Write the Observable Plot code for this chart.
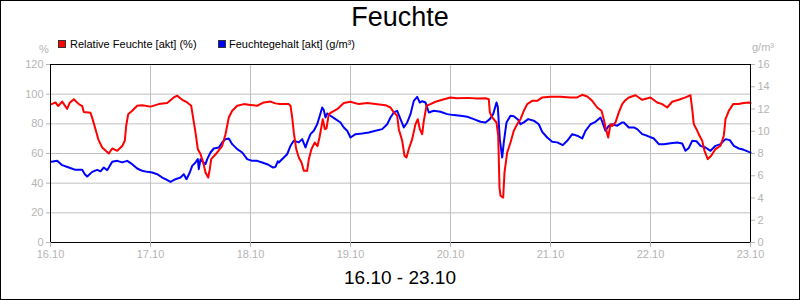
<!DOCTYPE html>
<html><head><meta charset="utf-8">
<script src="https://cdn.jsdelivr.net/npm/d3@7"></script>
<script src="https://cdn.jsdelivr.net/npm/@observablehq/plot@0.6"></script>
<style>
body{margin:0;background:#fff;font-family:"Liberation Sans",Arial,sans-serif;}
#c{position:relative;width:800px;height:300px;overflow:hidden;background:#fff}
#border{position:absolute;left:0;top:0;width:800px;height:300px;box-sizing:border-box;border:1px solid #000;pointer-events:none}
.abs{position:absolute;white-space:nowrap;line-height:1}
.sw{position:absolute;width:6px;height:6px;border:1px solid #333}
#plot{position:absolute;left:0;top:50px}
</style></head>
<body><div id="c">
<div class="abs" style="left:0;width:800px;text-align:center;top:4px;font-size:27px;color:#000">Feuchte</div>
<div class="sw" style="left:58px;top:40px;background:#ff0000"></div>
<div class="abs" style="left:70px;top:39px;font-size:11px;color:#000">Relative Feuchte [akt] (%)</div>
<div class="sw" style="left:218px;top:40px;background:#0000ff"></div>
<div class="abs" style="left:229px;top:39px;font-size:11px;color:#000">Feuchtegehalt [akt] (g/m³)</div>
<div class="abs" style="left:39px;top:44px;font-size:11px;color:#b4b4b4">%</div>
<div class="abs" style="left:752px;top:42px;font-size:11px;color:#b4b4b4">g/m³</div>
<div id="plot"></div>
<div class="abs" style="left:0;width:800px;text-align:center;top:268px;font-size:19px;color:#000">16.10 - 23.10</div>
<div id="border"></div>
</div>
<script>
const xTickLabels = ["16.10","17.10","18.10","19.10","20.10","21.10","22.10","23.10"];
const leftTicks = [0,20,40,60,80,100,120];
const rightTicks = [0,2,4,6,8,10,12,14,16];

const redDays = [0.01,0.05,0.077,0.117,0.167,0.19,0.233,0.283,0.317,0.333,0.40,0.417,0.45,0.477,0.517,0.583,0.617,0.667,0.717,0.743,0.757,0.777,0.817,0.867,0.917,1.00,1.083,1.143,1.167,1.233,1.267,1.317,1.367,1.407,1.423,1.45,1.473,1.50,1.527,1.55,1.577,1.593,1.607,1.667,1.717,1.75,1.783,1.817,1.867,1.933,2.00,2.067,2.133,2.20,2.25,2.293,2.333,2.383,2.40,2.417,2.433,2.457,2.483,2.51,2.533,2.567,2.583,2.61,2.643,2.67,2.69,2.723,2.743,2.76,2.783,2.817,2.867,2.933,3.00,3.083,3.167,3.25,3.35,3.40,3.433,3.467,3.483,3.517,3.54,3.56,3.583,3.617,3.65,3.673,3.693,3.717,3.733,3.76,3.80,3.85,3.917,4.00,4.067,4.167,4.267,4.35,4.383,4.393,4.417,4.46,4.477,4.483,4.49,4.50,4.527,4.54,4.567,4.60,4.633,4.667,4.70,4.733,4.767,4.817,4.867,4.917,5.00,5.10,5.20,5.267,5.317,5.367,5.417,5.467,5.51,5.533,5.55,5.577,5.60,5.617,5.65,5.683,5.717,5.743,5.783,5.85,5.917,6.00,6.067,6.117,6.167,6.217,6.283,6.35,6.40,6.417,6.433,6.46,6.483,6.517,6.54,6.573,6.607,6.65,6.70,6.733,6.75,6.783,6.827,6.88,6.933,6.983,7.00];
const redValues = [93.3,94.4,92,95,90,94,96.6,93.3,92,88,87.5,84,76.4,69.7,64,60,63.4,61.8,65,68.6,78.7,86.5,88.8,92.2,92.6,91.6,93.3,93.9,94,97.8,99,96.2,94.4,92.2,85.4,74.2,62.9,59.6,54,47.2,43.8,49.4,56.2,60.7,65.2,73,84.3,88.8,92.2,93.3,92.7,92.2,94.4,95,93.8,93.3,93.3,93.3,92.2,84.3,74.2,63,57.3,54,48.3,48.3,56.2,63,67.4,65,70.8,83.1,76.4,77,86.5,88.1,89.9,94,94.9,93.3,94,93.3,92.6,91,87.7,85.4,76.4,68.6,58.5,57.3,63,69.7,79.8,83.1,76.4,73,82,92.2,93.3,94.9,96.2,97.8,97.3,97.5,97,97.3,96.6,87.7,84.3,80.9,71.9,56.2,37,31.5,30.3,47.2,60.7,67.4,75.3,79.8,83.1,88.8,93.3,95.5,95.5,97.8,98.2,98.2,97.8,97.8,99.6,98.4,95.5,91,88.8,83.1,77.5,70.8,79.8,78.5,81,87.7,93.3,95.5,97.8,99.3,96.2,97.8,94.4,93.3,91,94.9,96.2,97.8,99.3,89.9,79.8,76.4,73,68.6,61.8,56.2,58.5,63,65.2,72,83.1,88.8,93.3,93.3,94,94.4,94];

const blueDays = [0.01,0.067,0.117,0.183,0.25,0.317,0.343,0.367,0.417,0.467,0.50,0.533,0.567,0.617,0.667,0.717,0.767,0.817,0.867,0.917,0.967,1.017,1.067,1.117,1.15,1.20,1.25,1.30,1.333,1.36,1.393,1.417,1.45,1.473,1.483,1.50,1.527,1.55,1.567,1.60,1.633,1.683,1.717,1.75,1.783,1.817,1.867,1.917,1.967,2.017,2.067,2.117,2.167,2.227,2.25,2.273,2.283,2.333,2.367,2.40,2.433,2.483,2.517,2.55,2.567,2.60,2.633,2.667,2.693,2.717,2.733,2.75,2.767,2.80,2.85,2.90,2.933,2.967,3.00,3.05,3.117,3.183,3.25,3.317,3.367,3.40,3.433,3.467,3.50,3.533,3.567,3.60,3.633,3.667,3.693,3.717,3.75,3.783,3.833,3.90,3.967,4.033,4.10,4.167,4.233,4.30,4.35,4.393,4.427,4.46,4.473,4.493,4.517,4.533,4.56,4.60,4.633,4.677,4.70,4.733,4.777,4.833,4.883,4.917,4.967,5.017,5.067,5.123,5.167,5.217,5.267,5.317,5.35,5.40,5.45,5.50,5.52,5.55,5.583,5.617,5.667,5.717,5.733,5.783,5.833,5.867,5.917,5.967,6.033,6.083,6.133,6.20,6.267,6.317,6.35,6.383,6.417,6.46,6.50,6.55,6.60,6.65,6.70,6.75,6.793,6.833,6.883,6.933,6.983,7.00];
const blueValues = [7.25,7.34,6.95,6.74,6.53,6.53,6.14,5.93,6.35,6.53,6.4,6.74,6.5,7.25,7.34,7.2,7.34,7.04,6.65,6.44,6.35,6.29,6.14,5.84,5.69,5.45,5.69,5.84,6.14,5.69,6.29,6.89,7.19,7.49,6.59,7.49,7.2,7.04,7.49,8.09,8.45,8.54,8.99,9.29,9.35,8.84,8.39,8.09,7.49,7.34,7.34,7.19,7.04,6.74,6.8,7.3,7.19,7.64,7.94,8.69,9.14,9.0,9.29,8.54,9.0,9.74,10.04,10.63,11.39,12.13,11.9,11.24,11.6,11.39,11.09,10.79,10.34,10.04,9.44,9.74,9.8,9.89,10.04,10.19,10.63,11.24,11.69,11.84,11.09,10.34,10.79,11.54,12.73,13.09,12.58,12.7,12.58,11.69,11.84,11.75,11.54,11.45,11.39,11.3,11.09,10.85,10.79,11.09,11.54,12.58,12.2,9.29,7.64,8.99,10.79,11.39,11.35,11.03,10.63,10.8,11.09,10.95,10.63,9.95,9.44,9.05,9.0,8.75,9.14,9.74,9.6,9.35,10.04,10.63,10.85,11.24,10.8,10.04,10.49,10.63,10.5,10.79,10.79,10.34,10.34,10.19,9.74,9.59,9.35,8.84,8.84,8.93,8.99,8.9,8.24,8.5,9.14,9.1,8.69,8.54,8.24,8.69,8.84,9.29,9.2,8.69,8.45,8.33,8.15,8.1];

const k = 120 / 16; // g/m³ to % axis scale
const red = redDays.map((d, i) => ({d, v: redValues[i]}));
const blue = blueDays.map((d, i) => ({d, v: blueValues[i] * k}));

const grid = "#c0c0c0", txt = "#b4b4b4";
const chart = Plot.plot({
  width: 800, height: 210,
  marginLeft: 50, marginRight: 50, marginTop: 14, marginBottom: 18,
  style: {fontFamily: "'Liberation Sans', Arial, sans-serif", fontSize: "11px", background: "transparent"},
  x: {domain: [0, 7]},
  y: {domain: [0, 120]},
  marks: [
    Plot.gridY(leftTicks, {stroke: grid, strokeOpacity: 1}),
    Plot.gridX(d3.range(xTickLabels.length), {stroke: grid, strokeOpacity: 1}),
    Plot.line(blue, {x: "d", y: "v", stroke: "#0000ff", strokeWidth: 2}),
    Plot.line(red, {x: "d", y: "v", stroke: "#ff0000", strokeWidth: 2}),
    Plot.frame({stroke: "#000"}),
    Plot.axisX(d3.range(xTickLabels.length), {tickFormat: i => xTickLabels[i], tickSize: 5, tickPadding: 3, color: txt, label: null}),
    Plot.axisY(leftTicks, {anchor: "left", tickSize: 4, tickPadding: 3, color: txt, label: null}),
    Plot.axisY(rightTicks.map(t => t * k), {anchor: "right", tickFormat: v => String(Math.round(v / k)), tickSize: 4, tickPadding: 3, color: txt, label: null})
  ]
});
document.getElementById("plot").appendChild(chart);
</script>
</body></html>
